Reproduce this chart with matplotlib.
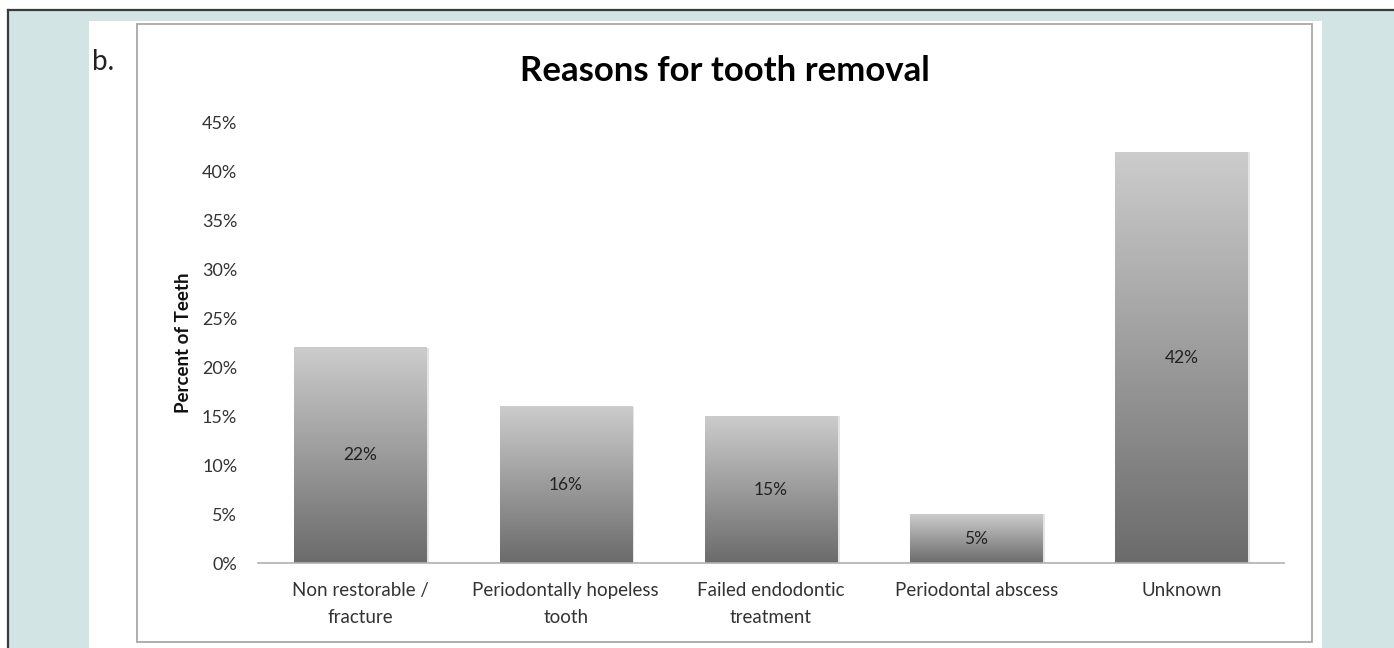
import numpy as np
import matplotlib
matplotlib.use('Agg')
import matplotlib.pyplot as plt
from matplotlib.patches import Rectangle
from matplotlib.lines import Line2D
from matplotlib.colors import LinearSegmentedColormap

# data
categories = ['Non restorable /\nfracture', 'Periodontally hopeless\ntooth',
              'Failed endodontic\ntreatment', 'Periodontal abscess', 'Unknown']
percent = [22, 16, 15, 5, 42]
yticks = [0, 5, 10, 15, 20, 25, 30, 35, 40, 45]

plt.rcParams['font.family'] = ['Lato', 'DejaVu Sans']

W, H = 1394, 648
fig = plt.figure(figsize=(W / 100, H / 100), dpi=100)
fig.patch.set_facecolor('white')

def fx(px):
    return px / W

def fy(py):
    return 1 - py / H

# teal page background + dark frame
fig.patches.append(Rectangle((fx(8), 0), 1 - fx(8), fy(10), transform=fig.transFigure,
                             facecolor='#d2e5e4', edgecolor='none', zorder=-3))
fig.lines.append(Line2D([fx(8), 1], [fy(10), fy(10)], transform=fig.transFigure,
                        color='#3a3a3a', lw=1.6))
fig.lines.append(Line2D([fx(8), fx(8)], [0, fy(10)], transform=fig.transFigure,
                        color='#3a3a3a', lw=1.6))
# white panel
fig.patches.append(Rectangle((fx(89), 0), fx(1322 - 89), fy(21), transform=fig.transFigure,
                             facecolor='white', edgecolor='none', zorder=-2))
# chart box
fig.patches.append(Rectangle((fx(137), fy(642)), fx(1312 - 137), (642 - 24) / H,
                             transform=fig.transFigure, facecolor='white',
                             edgecolor='#a8a8a8', lw=1.3, zorder=-1))

fig.text(fx(92), fy(62), 'b.', fontsize=20, color='#222222', va='center', ha='left')

ax = fig.add_axes([fx(258), fy(563), fx(1284 - 258), (563 - 123) / H])
ax.set_facecolor('none')
ax.set_zorder(2)

x = np.arange(len(categories))
bars = ax.bar(x, percent, width=0.645, color='none', zorder=1)

cmap = LinearSegmentedColormap.from_list('g', ['#6b6b6b', '#cccccc'])
grad = np.linspace(0, 1, 256).reshape(-1, 1)
for b, v in zip(bars, percent):
    x0 = b.get_x()
    x1 = x0 + b.get_width()
    ax.imshow(grad, extent=[x0, x1, 0, b.get_height()], origin='lower', cmap=cmap,
              aspect='auto', zorder=2)
    # soft shadow on right edge
    ax.add_patch(Rectangle((x1, 0), 0.012, b.get_height(), facecolor='#e4e4e4',
                           edgecolor='none', zorder=1.5))
    ax.text(b.get_x() + b.get_width() / 2, b.get_height() / 2, f'{v}%',
            ha='center', va='center', fontsize=12.5, color='#222222', zorder=3)

ax.set_xlim(-0.5, len(categories) - 0.5)
ax.set_ylim(0, 45)
ax.set_yticks(yticks)
ax.set_yticklabels([f'{t}%' for t in yticks])
ax.set_xticks(x)
ax.set_xticklabels(categories, linespacing=1.65)
ax.tick_params(axis='y', length=0, pad=15, labelsize=13, labelcolor='#333333')
ax.tick_params(axis='x', length=0, pad=14, labelsize=13.5, labelcolor='#333333')
for s in ['top', 'right', 'left']:
    ax.spines[s].set_visible(False)
ax.spines['bottom'].set_color('#b0b0b0')
ax.spines['bottom'].set_linewidth(1.2)
ax.spines['bottom'].set_zorder(4)

ax.set_ylabel('Percent of Teeth', fontsize=13.5, fontweight='bold', color='#111111')
ax.yaxis.set_label_coords((192 - 258) / (1284 - 258), 0.5)

fig.text(fx(725), fy(71), 'Reasons for tooth removal', fontsize=25, fontweight='bold',
         ha='center', va='center', color='#000000')

plt.savefig('out.png', dpi=100)
